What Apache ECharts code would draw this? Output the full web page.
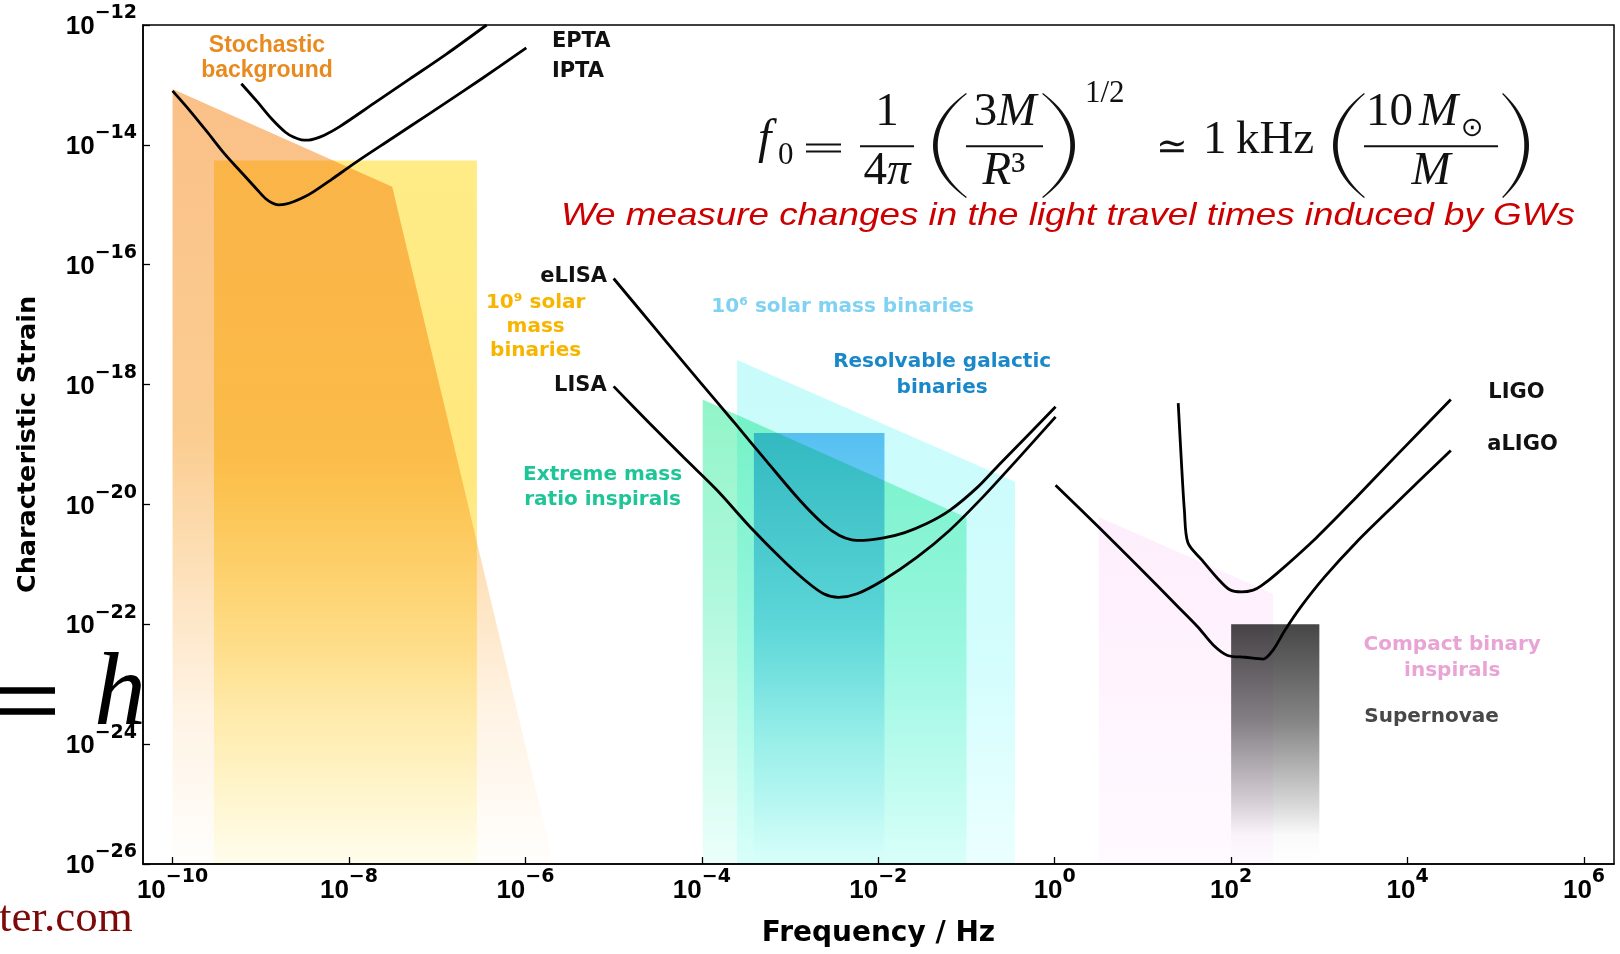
<!DOCTYPE html>
<html>
<head>
<meta charset="utf-8">
<title>Gravitational-wave spectrum</title>
<script src="https://cdn.jsdelivr.net/npm/echarts@6/dist/echarts.min.js"></script>
<style>
  html, body { margin: 0; padding: 0; background: #fff; }
  #chart { width: 1620px; height: 954px; }
</style>
</head>
<body>
<div id="chart"></div>
<script>
// All values are [log10 frequency (Hz), log10 characteristic strain] pairs.
const FREQ_MIN = -10.335, FREQ_MAX = 6.34;
const STRAIN_MIN = -26, STRAIN_MAX = -12;
const freqTicks = [-10, -8, -6, -4, -2, 0, 2, 4, 6];

// Detector sensitivity curves
const eptaCurve = [[-9.22,-12.98],[-9.04,-13.28],[-8.88,-13.56],[-8.72,-13.79],[-8.63,-13.87],[-8.54,-13.915],
  [-8.46,-13.92],[-8.38,-13.895],[-8.28,-13.84],[-8.11,-13.70],[-7.71,-13.30],[-7.31,-12.90],[-6.90,-12.49],[-6.44,-12.00]];
const iptaCurve = [[-10.00,-13.10],[-9.81,-13.42],[-9.61,-13.78],[-9.41,-14.15],[-9.20,-14.49],[-9.04,-14.75],
  [-8.95,-14.89],[-8.87,-14.97],[-8.80,-15.00],[-8.72,-14.99],[-8.63,-14.95],[-8.52,-14.88],[-8.40,-14.78],
  [-8.20,-14.58],[-7.91,-14.28],[-7.51,-13.89],[-7.10,-13.49],[-6.70,-13.10],[-6.30,-12.70],[-5.99,-12.38]];
const elisaCurve = [[-5.00,-16.23],[-4.70,-16.76],[-4.40,-17.29],[-4.02,-17.96],[-3.64,-18.62],[-3.26,-19.29],
  [-2.89,-19.93],[-2.62,-20.33],[-2.44,-20.52],[-2.30,-20.59],[-2.17,-20.60],[-1.94,-20.56],[-1.70,-20.47],
  [-1.45,-20.32],[-1.19,-20.10],[-0.88,-19.72],[-0.62,-19.32],[-0.32,-18.87],[0.01,-18.37]];
const lisaCurve = [[-5.00,-18.03],[-4.59,-18.65],[-4.21,-19.21],[-3.83,-19.76],[-3.45,-20.38],[-3.08,-20.93],
  [-2.81,-21.29],[-2.62,-21.49],[-2.45,-21.55],[-2.24,-21.49],[-1.94,-21.26],[-1.56,-20.88],[-1.19,-20.43],
  [-0.81,-19.87],[-0.43,-19.26],[0.01,-18.54]];
const ligoCurve = [[1.40,-18.31],[1.435,-19.26],[1.47,-20.10],[1.51,-20.64],[1.67,-20.93],[1.85,-21.24],
  [1.98,-21.42],[2.12,-21.46],[2.25,-21.43],[2.34,-21.36],[2.52,-21.15],[2.97,-20.55],[3.42,-19.88],
  [3.87,-19.19],[4.49,-18.25]];
const aligoCurve = [[0.01,-19.68],[0.50,-20.38],[0.95,-21.04],[1.40,-21.71],[1.62,-22.04],[1.80,-22.35],
  [1.96,-22.52],[2.16,-22.55],[2.36,-22.58],[2.475,-22.43],[2.61,-22.10],[2.79,-21.71],[3.06,-21.21],
  [3.42,-20.63],[3.87,-19.98],[4.49,-19.10]];

// Source regions: upper edge, filled down to the bottom of the strain range
const stochasticEdge = [[-10.00,-13.07],[-7.51,-14.70],[-5.68,-26.00]];
const smbhb9Edge = [[-9.53,-14.26],[-6.55,-14.26]];
const smbhb6Edge = [[-3.60,-17.59],[-0.45,-19.62]];
const emriEdge = [[-3.99,-18.25],[-1.00,-20.22]];
const galacticEdge = [[-3.41,-18.81],[-1.93,-18.81]];
const compactEdge = [[0.50,-20.21],[2.475,-21.49]];
const supernovaEdge = [[2.00,-22.00],[3.00,-22.00]];

// Fill ramps (top -> bottom), combined with multiply so overlaps deepen
const ramps = {
  stochastic: [[0,'rgb(250,192,135)'],[0.45,'rgb(251,205,145)'],[0.6,'rgb(253,222,180)'],[0.8,'rgb(255,243,228)'],[1,'rgb(255,254,252)']],
  smbhb9: [[0,'rgb(255,236,135)'],[0.45,'rgb(255,232,125)'],[0.7,'rgb(255,241,170)'],[0.88,'rgb(255,250,212)'],[1,'rgb(255,254,240)']],
  smbhb6: [[0,'rgb(200,251,251)'],[0.6,'rgb(212,253,253)'],[1,'rgb(235,255,255)']],
  emri: [[0,'rgb(145,245,200)'],[0.45,'rgb(178,248,222)'],[1,'rgb(235,255,250)']],
  galactic: [[0,'rgb(110,195,245)'],[0.45,'rgb(160,222,248)'],[0.7,'rgb(215,242,252)'],[1,'rgb(255,255,255)']],
  compact: [[0,'rgb(254,238,253)'],[1,'rgb(255,250,255)']],
  supernova: [[0,'rgb(70,70,70)'],[0.4,'rgb(132,132,132)'],[0.75,'rgb(215,215,215)'],[0.88,'rgb(250,250,250)'],[1,'rgb(255,255,255)']]
};

function regionSeries(name, edge, ramp) {
  return {
    type: 'custom', name, silent: true, clip: true, z: 1,
    blendMode: 'multiply',
    data: [edge[0]], encode: { x: 0, y: 1 },
    renderItem(params, api) {
      const pts = edge.map(p => api.coord(p));
      pts.push(api.coord([edge[edge.length - 1][0], STRAIN_MIN]));
      pts.push(api.coord([edge[0][0], STRAIN_MIN]));
      return {
        type: 'polygon', shape: { points: pts },
        style: {
          fill: new echarts.graphic.LinearGradient(0, 0, 0, 1, ramp.map(s => ({ offset: s[0], color: s[1] }))),
          blend: 'multiply'
        }
      };
    }
  };
}

function curveSeries(name, data) {
  return {
    type: 'line', name, data, silent: true, clip: true, z: 3,
    showSymbol: false, symbol: 'none', smooth: 0.3,
    lineStyle: { color: '#000', width: 2.8 }
  };
}

const pow10 = v => {
  const e = Math.round(v);
  return '{b|10}{s|' + (e < 0 ? '\u2212' + (-e) : String(e)) + '}';
};
const tickRich = {
  b: { fontFamily: '"Liberation Sans", Arial, sans-serif', fontWeight: 'bold', fontSize: 26, lineHeight: 36, verticalAlign: 'bottom', color: '#000' },
  s: { fontFamily: '"DejaVu Sans", sans-serif', fontWeight: 'bold', fontSize: 19, lineHeight: 20, verticalAlign: 'top', color: '#000' }
};

const chart = echarts.init(document.getElementById('chart'), null, { renderer: 'canvas' });
chart.setOption({
  backgroundColor: '#fff',
  animation: false,
  grid: { left: 143, right: 6, top: 25, bottom: 90, show: true, borderColor: '#000', borderWidth: 1.5, backgroundColor: 'transparent' },
  xAxis: {
    type: 'value', min: FREQ_MIN, max: FREQ_MAX,
    name: 'Frequency / Hz', nameLocation: 'middle', nameGap: 56,
    nameTextStyle: { fontFamily: '"DejaVu Sans", sans-serif', fontWeight: 'bold', fontSize: 28, color: '#000' },
    axisLine: { show: true, onZero: false, lineStyle: { color: '#000', width: 1.5 } },
    axisTick: { show: true, inside: true, length: 7, customValues: freqTicks, lineStyle: { color: '#000', width: 1.3 } },
    axisLabel: { customValues: freqTicks, margin: 4, formatter: pow10, rich: tickRich },
    splitLine: { show: false }
  },
  yAxis: {
    type: 'value', min: STRAIN_MIN, max: STRAIN_MAX, interval: 2,
    name: 'Characteristic Strain', nameLocation: 'middle', nameGap: 102, nameRotate: 90,
    nameTextStyle: { fontFamily: '"DejaVu Sans", sans-serif', fontWeight: 'bold', fontSize: 25.5, color: '#000' },
    axisLine: { show: true, onZero: false, lineStyle: { color: '#000', width: 1.5 } },
    axisTick: { show: true, inside: true, length: 7, lineStyle: { color: '#000', width: 1.3 } },
    axisLabel: { margin: 6, padding: [0, 0, 6, 0], formatter: pow10, rich: tickRich },
    splitLine: { show: false }
  },
  series: [
    regionSeries('10^9 solar mass binaries', smbhb9Edge, ramps.smbhb9),
    regionSeries('Stochastic background', stochasticEdge, ramps.stochastic),
    regionSeries('10^6 solar mass binaries', smbhb6Edge, ramps.smbhb6),
    regionSeries('Resolvable galactic binaries', galacticEdge, ramps.galactic),
    regionSeries('Extreme mass ratio inspirals', emriEdge, ramps.emri),
    regionSeries('Compact binary inspirals', compactEdge, ramps.compact),
    regionSeries('Supernovae', supernovaEdge, ramps.supernova),
    curveSeries('EPTA', eptaCurve),
    curveSeries('IPTA', iptaCurve),
    curveSeries('eLISA', elisaCurve),
    curveSeries('LISA', lisaCurve),
    curveSeries('LIGO', ligoCurve),
    curveSeries('aLIGO', aligoCurve)
  ]
});

// ---- annotations placed at data coordinates ----
const DV = '"DejaVu Sans", sans-serif';
const labels = [
  { text: 'Stochastic\nbackground', at: [-8.93, -12.56], align: 'center', color: '#e88a1e', font: 'bold 23px "Liberation Sans", Arial, sans-serif', lh: 25 },
  { text: 'EPTA', at: [-5.70, -12.27], align: 'left', color: '#111', font: 'bold 21px ' + DV },
  { text: 'IPTA', at: [-5.70, -12.77], align: 'left', color: '#111', font: 'bold 21px ' + DV },
  { text: 'eLISA', at: [-5.074, -16.19], align: 'right', color: '#111', font: 'bold 21px ' + DV },
  { text: 'LISA', at: [-5.079, -18.01], align: 'right', color: '#111', font: 'bold 21px ' + DV },
  { text: '10\u2079 solar\nmass\nbinaries', at: [-5.884, -17.04], align: 'center', color: '#f7b500', font: 'bold 20px ' + DV, lh: 24 },
  { text: '10\u2076 solar mass binaries', at: [-2.404, -16.70], align: 'center', color: '#7fd2f2', font: 'bold 20px ' + DV },
  { text: 'Resolvable galactic\nbinaries', at: [-1.276, -17.83], align: 'center', color: '#1a88c8', font: 'bold 20px ' + DV, lh: 26 },
  { text: 'Extreme mass\nratio inspirals', at: [-5.125, -19.72], align: 'center', color: '#1ec596', font: 'bold 20px ' + DV, lh: 25 },
  { text: 'LIGO', at: [4.915, -18.135], align: 'left', color: '#111', font: 'bold 21px ' + DV },
  { text: 'aLIGO', at: [4.904, -19.00], align: 'left', color: '#111', font: 'bold 21px ' + DV },
  { text: 'Compact binary\ninspirals', at: [4.506, -22.56], align: 'center', color: '#e8a4d4', font: 'bold 20px ' + DV, lh: 26 },
  { text: 'Supernovae', at: [3.509, -23.545], align: 'left', color: '#484848', font: 'bold 20px ' + DV }
];

const graphics = labels.map(l => {
  const p = chart.convertToPixel({ gridIndex: 0 }, l.at);
  return {
    type: 'text', x: p[0], y: p[1], z: 100, silent: true,
    style: { text: l.text, font: l.font, fill: l.color, align: l.align, verticalAlign: 'middle', lineHeight: l.lh || 24 }
  };
});

// ---- equation and slide text ----
const SERIF = '"Liberation Serif", "DejaVu Serif", serif';
const INK = '#111';
function mt(text, x, baseline, size, opt) {
  opt = opt || {};
  const style = { text, font: (opt.italic ? 'italic ' : '') + size + 'px ' + (opt.family || SERIF), fill: opt.fill || INK,
    align: opt.align || 'left', verticalAlign: 'middle' };
  if (opt.rich) style.rich = opt.rich;
  return { type: 'text', x, y: baseline - 0.3375 * size, z: 100, silent: true, style };
}
function richMath(text, x, baseline, size) {
  return mt(text, x, baseline, size, { align: 'center', rich: {
    r: { font: size + 'px ' + SERIF, fill: INK },
    i: { font: 'italic ' + size + 'px ' + SERIF, fill: INK }
  } });
}
function bar(x1, x2, y, h, fill) {
  return { type: 'rect', z: 100, silent: true, shape: { x: x1, y: y - h / 2, width: x2 - x1, height: h }, style: { fill: fill || INK } };
}
// Tall bracket drawn as a crescent between two cubic curves
function cubic(a, b, c, d, t) {
  const u = 1 - t;
  return u * u * u * a + 3 * u * u * t * b + 3 * u * t * t * c + t * t * t * d;
}
function paren(xl, xr, yt, yb, left) {
  const h = yb - yt, n = 28, pts = [];
  const tip = left ? xr : xl;
  const bulge = left ? (xl - 0.25 * xr) / 0.75 : (xr - 0.25 * xl) / 0.75;
  const inner = left ? bulge + 6 : bulge - 6;
  const back = left ? tip + 0.8 : tip - 0.8;
  for (let i = 0; i <= n; i++) {
    const t = i / n;
    pts.push([cubic(tip, bulge, bulge, tip, t), cubic(yt, yt + 0.3 * h, yb - 0.3 * h, yb, t)]);
  }
  for (let i = n; i >= 0; i--) {
    const t = i / n;
    pts.push([cubic(back, inner, inner, back, t), cubic(yt + 1, yt + 0.3 * h, yb - 0.3 * h, yb - 1, t)]);
  }
  return { type: 'polygon', z: 100, silent: true, shape: { points: pts }, style: { fill: INK } };
}

const FS = 47;
graphics.push(
  mt('f', 758, 157, 48, { italic: true }),
  mt('0', 778, 166, 31),
  bar(806, 841, 144.5, 2.2),
  bar(806, 841, 151.5, 2.2),
  mt('1', 887, 129, FS, { align: 'center' }),
  bar(860, 914, 146.2, 2),
  richMath('{r|4}{i|\u03c0}', 887, 188, FS),
  paren(933, 966, 93, 198, true),
  richMath('{r|3}{i|M}', 1005, 129, FS),
  bar(966, 1043, 146.2, 2),
  richMath('{i|R}{r|\u00b3}', 1004, 188, FS),
  paren(1043, 1075, 93, 198, false),
  mt('1/2', 1085, 104, 31),
  mt('\u2243', 1172, 162, 38, { align: 'center', family: '"DejaVu Serif", "DejaVu Sans", serif' }),
  mt('1\u2009kHz', 1203, 157, FS),
  paren(1333, 1364, 93, 198, true),
  mt('10', 1366, 129, FS),
  mt('M', 1419, 129, FS, { italic: true }),
  mt('\u2299', 1461, 138, 27, { family: '"DejaVu Sans", sans-serif' }),
  bar(1364, 1498, 146.2, 2),
  mt('M', 1431, 188, FS, { italic: true, align: 'center' }),
  paren(1503, 1529, 93, 198, false),
  {
    type: 'text', x: 561, y: 215.6, scaleX: 1.15, z: 100, silent: true,
    style: { text: 'We measure changes in the light travel times induced by GWs', font: 'italic 32px "Liberation Sans", Arial, sans-serif',
      fill: '#cc0000', align: 'left', verticalAlign: 'middle' }
  },
  // "= h" at the slide's left margin
  bar(-10, 55, 690.5, 6.5, '#000'),
  bar(-10, 55, 711.5, 6.5, '#000'),
  mt('h', 94, 732, 104, { italic: true, fill: '#000' }),
  mt('ter.com', -1, 934, 45, { fill: '#7d0a0a' })
);

chart.setOption({ graphic: graphics });
</script>
</body>
</html>
